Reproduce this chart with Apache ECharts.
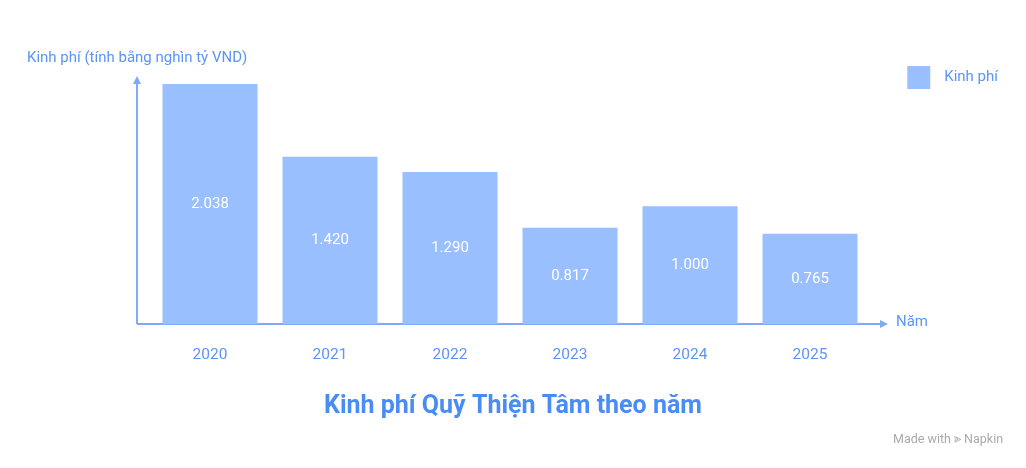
<!DOCTYPE html>
<html><head><meta charset="utf-8">
<script src="https://cdn.jsdelivr.net/npm/echarts@6/dist/echarts.min.js"></script>
<style>html,body{margin:0;padding:0;background:#fff}#c{width:1026px;height:468px}</style>
</head><body><div id="c"></div>
<script>
const categories = ['2020','2021','2022','2023','2024','2025'];
const values = [2.038, 1.420, 1.290, 0.817, 1.000, 0.765];
const labels = ['2.038','1.420','1.290','0.817','1.000','0.765'];
const seriesName = 'Kinh phí';
const yTitle = 'Kinh phí (tính bằng nghìn tỷ VND)';
const xTitle = 'Năm';
const chartTitle = 'Kinh phí Quỹ Thiện Tâm theo năm';

const blue = '#5b95f5';
const axisBlue = '#7eaaf8';
const barColor = '#99bffe';
const chart = echarts.init(document.getElementById('c'));
chart.setOption({
  animation: false,
  textStyle: {fontFamily: 'Roboto'},
  title: {text: chartTitle, left: 'center', top: 389,
    textStyle: {fontFamily: 'Roboto', fontSize: 25, fontWeight: 'bold', color: '#4a8cf5'}},
  legend: {right: 23, top: 61, itemWidth: 23, itemHeight: 23, itemGap: 10,
    icon: 'rect', textStyle: {color: blue, fontSize: 15, padding: [0,0,0,9]},
    data: [seriesName]},
  grid: {left: 150, right: 156, top: 78, bottom: 144},
  xAxis: {type: 'category', data: categories,
    axisLine: {show: false}, axisTick: {show: false},
    axisLabel: {color: blue, fontSize: 15.5, margin: 23}},
  yAxis: {type: 'value', min: 0, max: 2.088,
    axisLine: {show: false}, axisTick: {show: false},
    axisLabel: {show: false}, splitLine: {show: false}},
  series: [{name: seriesName, type: 'bar', data: values, barWidth: 95,
    itemStyle: {color: barColor},
    label: {show: true, position: 'inside', color: '#fff', fontSize: 15,
      formatter: p => labels[p.dataIndex]}}],
  graphic: [
    {type: 'line', shape: {x1: 137, y1: 324, x2: 137, y2: 82}, style: {stroke: axisBlue, lineWidth: 2}},
    {type: 'polygon', shape: {points: [[137,76],[133,84],[141,84]]}, style: {fill: axisBlue}},
    {type: 'line', shape: {x1: 137, y1: 324, x2: 882, y2: 324}, style: {stroke: axisBlue, lineWidth: 2}},
    {type: 'polygon', shape: {points: [[888,324],[880,320],[880,328]]}, style: {fill: axisBlue}},
    {type: 'text', left: 27, top: 51, style: {text: yTitle, fill: blue, font: '15px Roboto'}},
    {type: 'text', left: 896, top: 315, style: {text: xTitle, fill: blue, font: '15px Roboto'}},
    {type: 'text', left: 893, top: 433, style: {text: 'Made with ⫸ Napkin', fill: '#aaaaaa', font: '12.5px Roboto'}}
  ]
});
</script></body></html>
